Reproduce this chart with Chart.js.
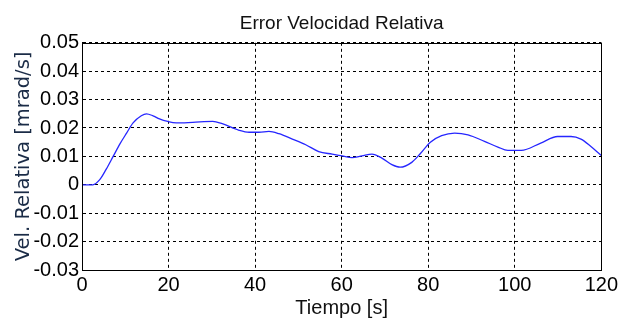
<!DOCTYPE html>
<html>
<head>
<meta charset="utf-8">
<script src="https://cdn.jsdelivr.net/npm/chart.js@4.4.1/dist/chart.umd.min.js"></script>
<style>
  html, body { margin: 0; padding: 0; background: #fff; }
  canvas { display: block; }
</style>
</head>
<body>
<canvas id="errorChart" width="621" height="320"></canvas>
<script>
// Data
var tiempo = [0, 2.5, 4.1, 5.6, 7.2, 8.8, 10.3, 11.8, 13.7, 14.9, 16.4, 17.9, 19.8, 21.8, 25.6, 30.2, 32.4, 36.3,
    38.6, 40.9, 43.2, 45.5, 48.6, 51.7, 54.7, 57.8, 60.1, 62.4, 64.7, 67, 69.3, 71.6, 73.5, 76.2, 78.2,
    80.5, 83.1, 86.1, 89.2, 93, 96.1, 98.4, 101.5, 106, 109.9, 113, 115.3, 117.6, 120];
var velocidad = [0, 0, 0.0018, 0.0055, 0.0100, 0.0145, 0.0182, 0.0218, 0.0243, 0.0250, 0.0243, 0.0232, 0.0223, 0.0218, 0.0220, 0.0223, 0.0215, 0.0192,
    0.0185, 0.0185, 0.0188, 0.0180, 0.0161, 0.0141, 0.0117, 0.0108, 0.0102, 0.0096, 0.0102, 0.0108, 0.0094, 0.0071, 0.0062, 0.0079, 0.0110,
    0.0150, 0.0173, 0.0182, 0.0176, 0.0153, 0.0133, 0.0121, 0.0121, 0.0147, 0.0170, 0.0170, 0.0161, 0.0135, 0.0103];

var xTicks = [0, 20, 40, 60, 80, 100, 120];
var yTicks = [-0.03, -0.02, -0.01, 0, 0.01, 0.02, 0.03, 0.04, 0.05];
var yTickLabels = ['-0.03', '-0.02', '-0.01', '0', '0.01', '0.02', '0.03', '0.04', '0.05'];

var puntos = tiempo.map(function (t, i) { return { x: t, y: velocidad[i] }; });

var tickFont = { family: "'Liberation Sans', Arial, sans-serif", size: 20 };

// draws the black box round the plot area
var boxPlugin = {
    id: 'box',
    afterDraw: function (chart) {
        var a = chart.chartArea, ctx = chart.ctx;
        ctx.save();
        ctx.strokeStyle = '#000';
        ctx.lineWidth = 1;
        ctx.strokeRect(Math.round(a.left) + 0.5, Math.round(a.top) + 0.5,
            Math.round(a.right - a.left), Math.round(a.bottom - a.top));
        ctx.restore();
    }
};

var ctx = document.getElementById('errorChart').getContext('2d');
var errorChart = new Chart(ctx, {
    type: 'scatter',
    data: {
        datasets: [{
            data: puntos,
            showLine: true,
            borderColor: '#2626ff',
            borderWidth: 1.3,
            pointRadius: 0,
            cubicInterpolationMode: 'monotone',
            fill: false
        }]
    },
    options: {
        responsive: false,
        animation: false,
        layout: { padding: { left: 0, right: 17, top: 0, bottom: 0 } },
        plugins: {
            legend: { display: false },
            tooltip: { enabled: false },
            title: {
                display: true,
                fullSize: false,
                text: 'Error Velocidad Relativa',
                color: '#111',
                font: { family: "'Liberation Sans', Arial, sans-serif", size: 19, weight: 'normal' },
                padding: { top: 12, bottom: 8 }
            }
        },
        scales: {
            x: {
                type: 'linear',
                min: 0,
                max: 120,
                afterBuildTicks: function (scale) {
                    scale.ticks = xTicks.map(function (v) { return { value: v }; });
                },
                afterFit: function (scale) { scale.height = 50; },
                ticks: { color: '#000', font: tickFont, padding: 3, maxRotation: 0 },
                grid: { color: '#000', lineWidth: 1, drawTicks: false },
                border: { display: true, color: '#000', dash: [3, 3] },
                title: {
                    display: true,
                    text: 'Tiempo [s]',
                    color: '#111',
                    font: tickFont,
                    padding: { top: 5, bottom: 0 }
                }
            },
            y: {
                type: 'linear',
                min: -0.03,
                max: 0.05,
                afterBuildTicks: function (scale) {
                    scale.ticks = yTicks.map(function (v) { return { value: v }; });
                },
                afterFit: function (scale) { scale.width = 82; },
                ticks: {
                    color: '#000',
                    font: tickFont,
                    padding: 3,
                    callback: function (value) {
                        var i = yTicks.findIndex(function (t) { return Math.abs(t - value) < 1e-9; });
                        return i >= 0 ? yTickLabels[i] : '';
                    }
                },
                grid: { color: '#000', lineWidth: 1, drawTicks: false },
                border: { display: true, color: '#000', dash: [3, 3] },
                title: {
                    display: true,
                    text: 'Vel. Relativa [mrad/s]',
                    color: '#1a2b46',
                    font: { family: "'DejaVu Sans', Verdana, sans-serif", size: 19.5 },
                    padding: { top: 12, bottom: 0 }
                }
            }
        }
    },
    plugins: [boxPlugin]
});
</script>
</body>
</html>
